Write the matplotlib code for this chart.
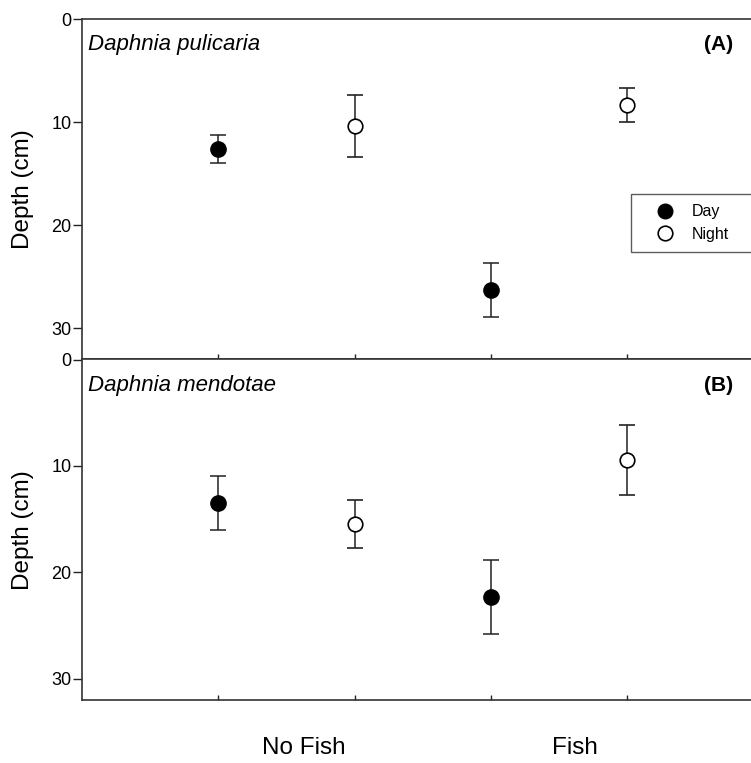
import numpy as np
import matplotlib
matplotlib.use('Agg')
import matplotlib.pyplot as plt
from matplotlib.lines import Line2D

plt.rcParams['font.family'] = ['Liberation Sans', 'DejaVu Sans']

# data (depth in cm, mean +/- error)
treatments = ['No Fish', 'Fish']
species = ['Daphnia pulicaria', 'Daphnia mendotae']
tags = ['(A)', '(B)']

day_mean_a = [12.6, 26.3]
day_err_a = [1.35, 2.65]
night_mean_a = [10.4, 8.3]
night_err_a = [3.0, 1.65]

day_mean_b = [13.5, 22.3]
day_err_b = [2.55, 3.5]
night_mean_b = [15.5, 9.45]
night_err_b = [2.25, 3.25]

yticks = [0, 10, 20, 30]

if __name__ == '__main__':
    fig = plt.figure(figsize=(7.51, 7.63), dpi=100)
    W, H = 751.0, 763.0
    left = 82 / W
    width = (763.5 - 82) / W
    ax_a = fig.add_axes([left, 1 - 359 / H, width, (359 - 19) / H])
    ax_b = fig.add_axes([left, 1 - 700 / H, width, (700 - 359.5) / H])

    panels = [
        (ax_a, day_mean_a, day_err_a, night_mean_a, night_err_a, 33),
        (ax_b, day_mean_b, day_err_b, night_mean_b, night_err_b, 32),
    ]
    dark = '#222222'
    day_x = np.array([1, 3])
    night_x = np.array([2, 4])

    for i, (ax, dm, de, nm, ne, ymax) in enumerate(panels):
        ax.errorbar(day_x, dm, yerr=de, fmt='o', ms=11, mfc='black', mec='black',
                    ecolor=dark, elinewidth=1.1, capsize=6, capthick=1.1, zorder=3)
        ax.errorbar(night_x, nm, yerr=ne, fmt='o', ms=10.5, mfc='white', mec='black',
                    mew=1.2, ecolor=dark, elinewidth=1.1, capsize=6, capthick=1.1, zorder=3)
        ax.set_xlim(0, 5)
        ax.set_ylim(ymax, 0)
        ax.set_yticks(yticks)
        ax.set_xticks([1, 2, 3, 4])
        ax.set_xticklabels([])
        ax.tick_params(axis='y', direction='out', length=6.5, width=1, labelsize=13,
                       pad=1, color=dark)
        ax.tick_params(axis='x', direction='in', length=3.6, width=1, color=dark)
        ax.spines['right'].set_visible(False)
        for s in ['left', 'bottom', 'top']:
            ax.spines[s].set_color('#333333')
            ax.spines[s].set_linewidth(1.2)
        ax.set_ylabel('Depth (cm)', fontsize=17.5)
        ax.yaxis.set_label_coords(-0.07, 0.5)
        ax.text(0.009, 0.925, species[i], transform=ax.transAxes, fontsize=16,
                style='italic', ha='left', va='center')
        ax.text(0.955, 0.925, tags[i], transform=ax.transAxes, fontsize=15,
                fontweight='bold', ha='right', va='center')

    handles = [
        Line2D([], [], ls='none', marker='o', ms=10.5, mfc='black', mec='black'),
        Line2D([], [], ls='none', marker='o', ms=10.5, mfc='white', mec='black', mew=1.2),
    ]
    ax_w = 763.5 - 82
    leg = ax_a.legend(handles, ['Day', 'Night'], loc='upper left', mode='expand',
                      bbox_to_anchor=((631 - 82) / ax_w, 1 - (194 - 19) / 340,
                                      (765 - 631) / ax_w, 0.0),
                      fontsize=11.5, frameon=True, fancybox=False, borderpad=0.65,
                      handletextpad=0.15, labelspacing=0.45, borderaxespad=0,
                      handlelength=3.0)
    leg.get_frame().set_edgecolor('#333333')
    leg.get_frame().set_linewidth(1.0)

    # treatment labels under the bottom panel
    for name, xpos in zip(treatments, [304, 575]):
        fig.text(xpos / W, 1 - 748 / H, name, fontsize=17.5, ha='center', va='center')

    fig.savefig('out.png', dpi=100)
